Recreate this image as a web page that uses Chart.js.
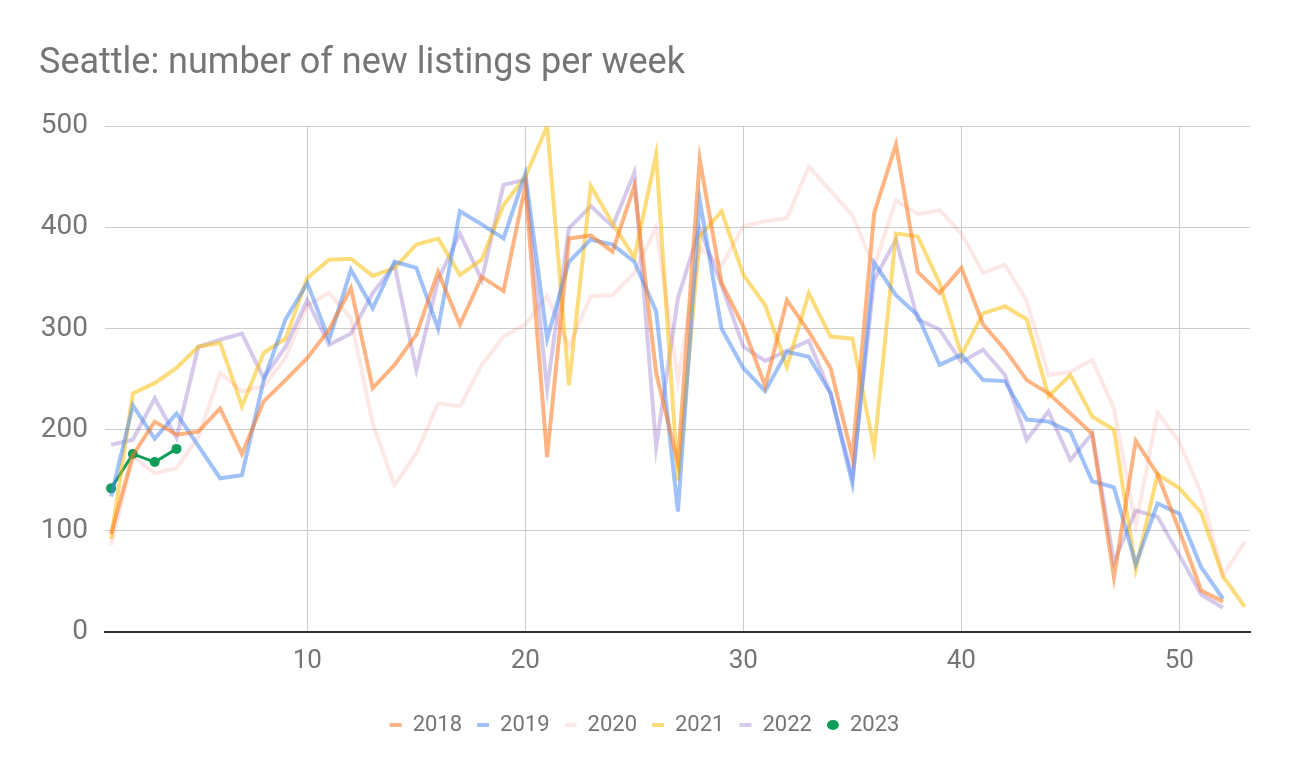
<!DOCTYPE html>
<html>
<head>
<meta charset="utf-8">
<script src="https://cdn.jsdelivr.net/npm/chart.js@4/dist/chart.umd.min.js"></script>
<style>
html,body{margin:0;padding:0;background:#fff;}
canvas{display:block;}
</style>
</head>
<body>
<canvas id="c" width="1289" height="777"></canvas>
<script>
const weeks = Array.from({length: 53}, (_, i) => i + 1);
const xTicks = [10, 20, 30, 40, 50];
const yTicks = [0, 100, 200, 300, 400, 500];

const s2018 = [97,175,208,195,198,221,176,228,249,271,299,340,241,264,294,356,304,351,337,441,173,389,392,376,441,256,167,467,345,302,243,328,297,261,173,414,482,356,335,360,304,279,249,236,216,196,54,189,156,100,41,30,null];
const s2019 = [134,224,191,216,184,152,155,249,309,345,289,358,320,366,360,300,416,403,389,453,290,366,388,383,366,317,119,427,300,261,238,277,272,236,147,365,333,313,264,274,249,248,210,208,198,149,143,67,127,117,64,33,null];
const s2020 = [86,173,157,162,193,256,238,243,271,323,335,310,206,145,177,226,223,264,292,304,332,282,332,333,355,400,249,380,362,401,406,409,460,436,412,361,427,413,417,394,355,363,327,254,257,269,221,106,217,188,137,56,89];
const s2021 = [92,236,246,261,282,286,223,276,290,350,368,369,352,360,383,389,353,368,422,450,500,244,441,404,370,472,150,391,416,353,323,262,335,292,290,181,394,391,345,274,315,322,309,233,254,213,200,62,156,142,118,55,25];
const s2022 = [185,190,231,192,282,289,295,251,282,328,284,295,335,363,259,348,394,348,442,447,240,399,421,401,454,183,330,399,343,282,268,278,288,236,153,348,388,309,299,267,279,254,190,218,170,196,69,120,114,76,37,24,null];
const s2023 = [142,176,168,181];

function pts(vals) {
  const out = [];
  vals.forEach((v, i) => { if (v !== null) out.push({x: weeks[i], y: v}); });
  return out;
}

function lineSet(label, vals, color) {
  return {
    label, data: pts(vals), borderColor: color, backgroundColor: color,
    borderWidth: 4, pointRadius: 0, pointHoverRadius: 0, pointStyle: 'line',
    tension: 0, fill: false
  };
}

const grey = '#757575';
new Chart(document.getElementById('c'), {
  type: 'line',
  data: {
    datasets: [
      lineSet('2018', s2018, 'rgba(255,120,30,0.55)'),
      lineSet('2019', s2019, 'rgba(66,133,244,0.5)'),
      lineSet('2020', s2020, 'rgba(234,67,53,0.12)'),
      lineSet('2021', s2021, 'rgba(251,188,4,0.52)'),
      lineSet('2022', s2022, 'rgba(103,58,183,0.27)'),
      {
        label: '2023', data: pts(s2023), borderColor: '#0f9d58', backgroundColor: '#0f9d58',
        borderWidth: 3, pointRadius: 5, pointBorderWidth: 0, pointStyle: 'circle', tension: 0, fill: false
      }
    ]
  },
  options: {
    responsive: false,
    animation: false,
    devicePixelRatio: 1,
    layout: {padding: {left: 39, right: 39, top: 0, bottom: 31}},
    plugins: {
      title: {
        display: true, text: 'Seattle: number of new listings per week', align: 'start',
        color: grey, font: {family: 'Roboto', size: 36, weight: 'normal', lineHeight: 1.2},
        padding: {top: 42, bottom: 41}
      },
      legend: {
        position: 'bottom', align: 'center',
        labels: {
          usePointStyle: true, pointStyleWidth: 12, boxHeight: 7,
          color: grey, font: {family: 'Roboto', size: 22}, padding: 15
        }
      },
      tooltip: {enabled: false}
    },
    scales: {
      x: {
        type: 'linear', min: 0.72, max: 53.24,
        afterBuildTicks: (s) => { s.ticks = xTicks.map(v => ({value: v})); },
        afterFit: (s) => { s.height = 67; },
        grid: {color: '#cccccc', drawTicks: false, lineWidth: 1},
        border: {display: true, color: '#333333', width: 2},
        ticks: {color: grey, font: {family: 'Roboto', size: 26}, padding: 14, maxRotation: 0}
      },
      y: {
        min: 0, max: 500,
        afterBuildTicks: (s) => { s.ticks = yTicks.map(v => ({value: v})); },
        afterFit: (s) => { s.width = 66; },
        grid: {color: '#cccccc', drawTicks: false, lineWidth: 1},
        border: {display: false},
        ticks: {color: grey, font: {family: 'Roboto', size: 28}, padding: 17}
      }
    }
  }
});
</script>
</body>
</html>
